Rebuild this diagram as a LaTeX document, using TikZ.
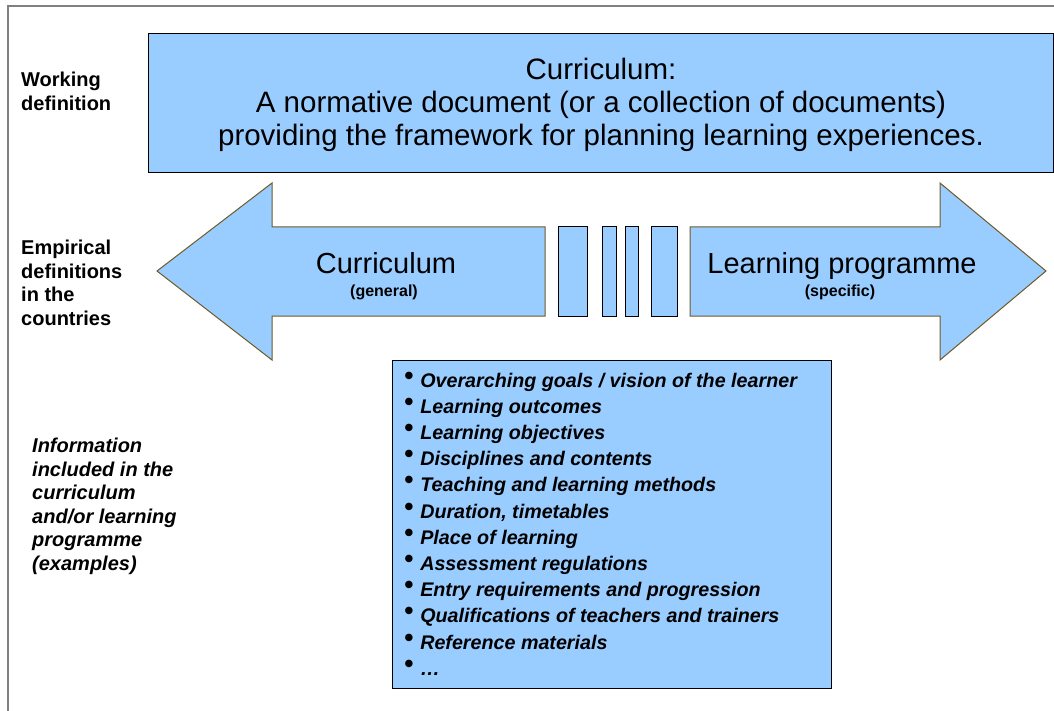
\documentclass[tikz,border=0pt]{standalone}
\usepackage{fontspec}
\setmainfont{Liberation Sans}
\definecolor{boxblue}{RGB}{153,204,255}
\definecolor{arrowline}{RGB}{110,90,40}
\definecolor{framegray}{RGB}{128,128,128}
\begin{document}
\begin{tikzpicture}[x=1pt,y=-1pt,
  bluebox/.style={fill=boxblue,draw=black,line width=1pt},
  bigarrow/.style={fill=boxblue,draw=arrowline,line width=1pt,line join=miter},
  sidelabel/.style={anchor=north west,align=left,inner sep=0pt,font=\fontsize{20}{23.5}\selectfont\bfseries},
  bigtext/.style={anchor=base,inner sep=0pt,font=\fontsize{29}{33}\selectfont},
  smalltext/.style={anchor=base,inner sep=0pt,font=\fontsize{16}{18}\selectfont\bfseries},
  listitem/.style={anchor=base west,inner sep=0pt,font=\fontsize{19.7}{24}\selectfont\bfseries\itshape}]

\useasboundingbox (0,0) rectangle (1054,711);

% frame
\draw[framegray,line width=1.5pt] (8,711) -- (8,6) -- (1054,6);

% row labels
\node[sidelabel] (working) at (21,72) {Working\\definition};
\node[sidelabel] (empirical) at (21,240) {Empirical\\definitions\\in the\\countries};
\node[sidelabel,font=\fontsize{20}{23.5}\selectfont\bfseries\itshape] (information) at (32,438)
  {Information\\included in the\\curriculum\\and/or learning\\programme\\(examples)};

% working definition
\draw[bluebox] (148,34) rectangle (1053,173);
\node[align=center,inner sep=0pt,font=\fontsize{29.5}{33}\selectfont] (definition) at (601,105)
  {Curriculum:\\A normative document (or a collection of documents)\\providing the framework for planning learning experiences.};

% empirical definitions
\draw[bigarrow] (545,227) -- (272,227) -- (272,183) -- (157,271) -- (272,360) -- (272,316) -- (545,316) -- cycle;
\draw[bigarrow] (690,227) -- (940,227) -- (940,183) -- (1046,271) -- (940,360) -- (940,316) -- (690,316) -- cycle;

\foreach \xa/\xb in {558/587,602/616,625/638,651/677} {
        \draw[bluebox] (\xa,227) rectangle (\xb,316);
 }

\node[bigtext] (general) at (386,273) {Curriculum};
\node[smalltext] (generalsub) at (384,296) {(general)};
\node[bigtext] (specific) at (842,273) {Learning programme};
\node[smalltext] (specificsub) at (840,296) {(specific)};

% information included
\draw[bluebox] (392,360) rectangle (831,688);
\foreach \txt [count=\i from 0] in {{Overarching goals / vision of the learner},{Learning outcomes},
  {Learning objectives},{Disciplines and contents},{Teaching and learning methods},
  {Duration, timetables},{Place of learning},{Assessment regulations},
  {Entry requirements and progression},{Qualifications of teachers and trainers},
  {Reference materials},{\ldots}} {
        \node[listitem] (item\i) at (404,387+26.2*\i) {\raisebox{3pt}{\fontsize{26}{26}\selectfont\textbullet}\hspace{7pt}\txt};
 }
\end{tikzpicture}
\end{document}
